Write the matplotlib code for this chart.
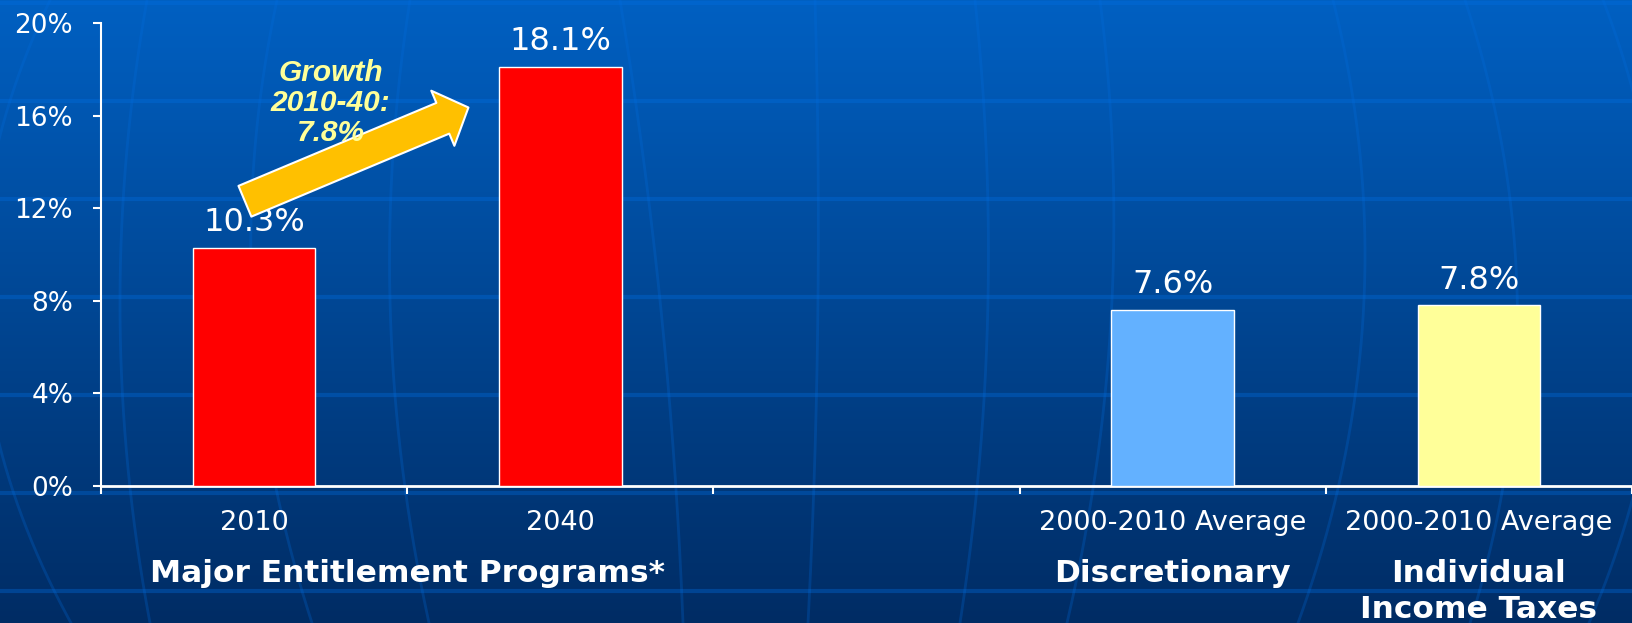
import matplotlib.pyplot as plt
import numpy as np
from matplotlib.patches import FancyArrowPatch

# chart data
categories = ["2010", "2040", "", "2000-2010 Average", "2000-2010 Average"]
values = [10.3, 18.1, np.nan, 7.6, 7.8]
bar_colors = ["#FF0000", "#FF0000", "none", "#63B1FF", "#FFFF99"]
value_labels = ["10.3%", "18.1%", "", "7.6%", "7.8%"]
groups = ["Major Entitlement Programs*", "Discretionary", "Individual\nIncome Taxes"]
group_members = [[0, 1], [3], [4]]
yticks = [0, 4, 8, 12, 16, 20]
ytick_labels = ["0%", "4%", "8%", "12%", "16%", "20%"]
growth_text = "Growth\n2010-40:\n7.8%"
growth_from = (-0.03, 12.3)   # 2010 side
growth_to = (0.70, 16.35)     # towards 2040

W, H = 1632, 623
fig = plt.figure(figsize=(W / 100, H / 100), dpi=100)

# ---- background: blue gradient with globe lines ----
bg = fig.add_axes([0, 0, 1, 1], zorder=-10)
top = np.array([0, 96, 194]) / 255
bot = np.array([0, 44, 100]) / 255
t = np.linspace(0, 1, H)[:, None]
grad = top * (1 - t) + bot * t
bg.imshow(grad[:, None, :], aspect="auto", extent=[0, W, H, 0])
line_col = (0, 110 / 255, 225 / 255)
for yy in np.arange(3, H, 98):
    bg.plot([0, W], [yy, yy], color=line_col, alpha=0.35, lw=3)
meridians = [
    [(-20, 300), (0, 447), (71, 623)],
    [(147, 0), (120, 300), (150, 623)],
    [(277, 0), (252, 300), (312, 623)],
    [(410, 0), (390, 300), (429, 623)],
    [(620, 0), (660, 300), (683, 623)],
    [(815, 0), (818, 300), (808, 623)],
    [(975, 0), (988, 300), (960, 623)],
    [(1100, 0), (1112, 300), (1067, 623)],
    [(1333, 0), (1365, 250), (1298, 623)],
    [(1465, 0), (1515, 250), (1470, 623)],
    [(1603, 0), (1660, 300), (1589, 623)],
]
ys = np.linspace(0, H, 200)
for pts in meridians:
    px = [p[0] for p in pts]
    py = [p[1] for p in pts]
    c = np.polyfit(py, px, 2)
    bg.plot(np.polyval(c, ys), ys, color=line_col, alpha=0.25, lw=2)
bg.set_xlim(0, W)
bg.set_ylim(H, 0)
bg.axis("off")

# ---- main chart ----
ax = fig.add_axes([101 / W, 1 - 486 / H, 1 - 101 / W, (486 - 23) / H])
ax.patch.set_alpha(0)
x = np.arange(len(categories))
ax.bar(x, values, width=0.4, color=bar_colors, edgecolor="white", linewidth=1, zorder=3)

for xi, v, lab in zip(x, values, value_labels):
    if np.isnan(v):
        continue
    ax.annotate(lab, (xi, v), xytext=(0, 7), textcoords="offset points",
                ha="center", va="bottom", fontsize=23, color="white")

ax.set_xlim(-0.5, len(categories) - 0.5)
ax.set_ylim(0, 20)
ax.set_yticks(yticks, ytick_labels)
ax.set_xticks(x, categories)
ax.set_xticks(np.arange(-0.5, len(categories)), minor=True)
ax.tick_params(axis="y", colors="white", labelsize=19, length=6, width=1.5, pad=14)
ax.tick_params(axis="x", which="major", colors="white", labelsize=19.5, length=0, pad=17)
ax.tick_params(axis="x", which="minor", colors="white", length=6, width=1.5)

for s in ["top", "right"]:
    ax.spines[s].set_visible(False)
ax.spines["left"].set_color("white")
ax.spines["left"].set_linewidth(1.5)
ax.spines["bottom"].set_color("white")
ax.spines["bottom"].set_linewidth(2)

# group labels under the categories
for name, members in zip(groups, group_members):
    gx = np.mean(members)
    ax.text(gx, -0.158, name, transform=ax.get_xaxis_transform(), ha="center", va="top",
            fontsize=22.5, fontweight="bold", color="white", linespacing=1.3, clip_on=False)

# growth arrow and note
arrow = FancyArrowPatch(growth_from, growth_to,
                        arrowstyle="simple,head_length=2.0,head_width=4.3,tail_width=2.4",
                        mutation_scale=10, facecolor="#FFC000", edgecolor="white",
                        linewidth=1.5, shrinkA=0, shrinkB=0, zorder=5)
ax.add_patch(arrow)
ax.text(0.25, 16.55, growth_text, ha="center", va="center", fontsize=21.5,
        fontweight="bold", fontstyle="italic", family="Liberation Sans",
        color="#FFFF99", linespacing=1.1, zorder=6)

fig.savefig("out.png", dpi=100)
